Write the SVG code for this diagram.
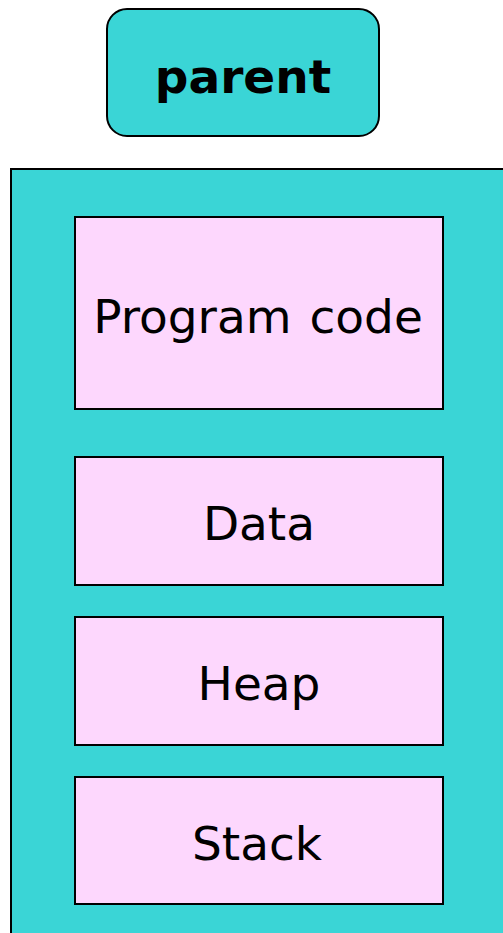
<svg xmlns="http://www.w3.org/2000/svg" width="503" height="933" viewBox="0 0 503 933">
  <style>
    .frame { fill: #3ad5d6; stroke: #000; stroke-width: 2; }
    .seg { fill: #fdd7fd; stroke: #000; stroke-width: 2; }
    .lbl { font-family: "DejaVu Sans", Verdana, sans-serif; font-size: 47px; fill: #000; text-anchor: middle; }
    .title { font-weight: bold; }
  </style>
  <rect width="503" height="933" fill="#fff"/>

  <g id="parent">
    <rect class="frame" x="107" y="9" width="272" height="127" rx="20" ry="20"/>
    <text class="lbl title" x="243" y="93">parent</text>
  </g>

  <g id="address-space">
    <rect class="frame" x="11" y="169" width="500" height="780"/>
  </g>

  <g id="program-code">
    <rect class="seg" x="75" y="217" width="368" height="192"/>
    <text class="lbl" x="258" y="333" font-size="48" word-spacing="3">Program code</text>
  </g>

  <g id="data">
    <rect class="seg" x="75" y="457" width="368" height="128"/>
    <text class="lbl" x="259" y="540">Data</text>
  </g>

  <g id="heap">
    <rect class="seg" x="75" y="617" width="368" height="128"/>
    <text class="lbl" x="259" y="700">Heap</text>
  </g>

  <g id="stack">
    <rect class="seg" x="75" y="777" width="368" height="127"/>
    <text class="lbl" x="257" y="860">Stack</text>
  </g>

  <g id="connectors"></g>
</svg>
